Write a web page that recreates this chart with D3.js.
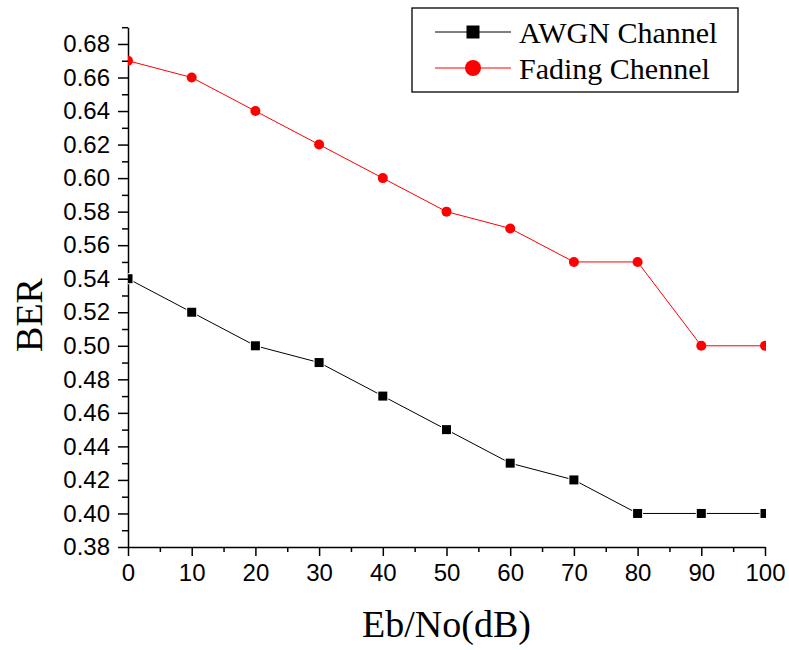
<!DOCTYPE html>
<html>
<head>
<meta charset="utf-8">
<script src="https://cdn.jsdelivr.net/npm/d3@7"></script>
<style>
  body { margin: 0; background: #fff; }
  .tick text { font-family: "Liberation Sans", Arial, sans-serif; font-size: 24px; fill: #000; }
  .label { font-family: "Liberation Serif", "Times New Roman", serif; font-size: 38px; fill: #000; }
  .legend text { font-family: "Liberation Serif", "Times New Roman", serif; font-size: 30px; fill: #000; }
</style>
</head>
<body>
<div class="chart"></div>
<script>
const ebNo = [0, 10, 20, 30, 40, 50, 60, 70, 80, 90, 100];
const awgn = [0.54, 0.52, 0.50, 0.49, 0.47, 0.45, 0.43, 0.42, 0.40, 0.40, 0.40];
const fading = [0.67, 0.66, 0.64, 0.62, 0.60, 0.58, 0.57, 0.55, 0.55, 0.50, 0.50];
const xTicks = [0, 10, 20, 30, 40, 50, 60, 70, 80, 90, 100];
const yTicks = [0.38, 0.40, 0.42, 0.44, 0.46, 0.48, 0.50, 0.52, 0.54, 0.56, 0.58, 0.60, 0.62, 0.64, 0.66, 0.68];
const seriesNames = ['AWGN Channel', 'Fading Chennel'];

const width = 789;
const height = 650;
const plotLeft = 128, plotRight = 765, plotTop = 27.2, plotBottom = 547;

const svg = d3.select('.chart')
  .append('svg')
  .attr('width', width)
  .attr('height', height);

const xScale = d3.scaleLinear().domain([0, 100]).range([plotLeft, plotRight]);
const yScale = d3.scaleLinear().domain([0.38, 0.69]).range([plotBottom, plotTop]);

// minor ticks first, then major axes on top
svg.append('g')
  .attr('transform', `translate(0, ${plotBottom})`)
  .call(d3.axisBottom(xScale).tickValues(d3.range(5, 100, 10)).tickSize(5).tickFormat(''))
  .call(g => g.select('.domain').remove())
  .call(g => g.selectAll('line').attr('stroke-width', 1.5));

svg.append('g')
  .attr('transform', `translate(${plotLeft}, 0)`)
  .call(d3.axisLeft(yScale).tickValues(d3.range(0.39, 0.695, 0.02)).tickSize(6).tickFormat(''))
  .call(g => g.select('.domain').remove())
  .call(g => g.selectAll('line').attr('stroke-width', 1.5));

svg.append('g')
  .attr('id', 'x-axis')
  .attr('transform', `translate(0, ${plotBottom})`)
  .call(d3.axisBottom(xScale).tickValues(xTicks).tickSize(9).tickSizeOuter(0).tickPadding(8).tickFormat(d3.format('d')))
  .call(g => g.select('.domain').attr('stroke-width', 1.5))
  .call(g => g.selectAll('line').attr('stroke-width', 1.5));

svg.append('g')
  .attr('id', 'y-axis')
  .attr('transform', `translate(${plotLeft}, 0)`)
  .call(d3.axisLeft(yScale).tickValues(yTicks).tickSize(10).tickSizeOuter(0).tickPadding(8).tickFormat(d3.format('.2f')))
  .call(g => g.select('.domain').attr('stroke-width', 1.5))
  .call(g => g.selectAll('line').attr('stroke-width', 1.5));

svg.append('clipPath')
  .attr('id', 'clip')
  .append('rect')
  .attr('x', plotLeft)
  .attr('y', 0)
  .attr('width', plotRight - plotLeft + 1)
  .attr('height', plotBottom);

const plot = svg.append('g').attr('clip-path', 'url(#clip)');

const line = d3.line()
  .x((d, i) => xScale(ebNo[i]))
  .y(d => yScale(d));

plot.append('path')
  .datum(awgn)
  .attr('fill', 'none')
  .attr('stroke', '#000')
  .attr('stroke-width', 1)
  .attr('d', line);

plot.append('path')
  .datum(fading)
  .attr('fill', 'none')
  .attr('stroke', '#ff0000')
  .attr('stroke-width', 1)
  .attr('d', line);

plot.selectAll('.sq')
  .data(awgn)
  .enter()
  .append('rect')
  .attr('class', 'sq')
  .attr('x', (d, i) => xScale(ebNo[i]) - 4.5)
  .attr('y', d => yScale(d) - 4.5)
  .attr('width', 9)
  .attr('height', 9)
  .attr('fill', '#000')
  .attr('stroke', '#fff')
  .attr('stroke-width', 2)
  .attr('paint-order', 'stroke');

plot.selectAll('.dot')
  .data(fading)
  .enter()
  .append('circle')
  .attr('class', 'dot')
  .attr('cx', (d, i) => xScale(ebNo[i]))
  .attr('cy', d => yScale(d))
  .attr('r', 5)
  .attr('fill', '#ff0000');

// axis titles
svg.append('text')
  .attr('class', 'label')
  .attr('text-anchor', 'middle')
  .attr('x', (plotLeft + plotRight) / 2)
  .attr('y', 637)
  .text('Eb/No(dB)');

svg.append('text')
  .attr('class', 'label')
  .attr('text-anchor', 'middle')
  .attr('transform', 'translate(42, 315) rotate(-90)')
  .text('BER');

// legend
const legend = svg.append('g').attr('class', 'legend');
legend.append('rect')
  .attr('x', 412)
  .attr('y', 8)
  .attr('width', 326)
  .attr('height', 84)
  .attr('fill', '#fff')
  .attr('stroke', '#000')
  .attr('stroke-width', 1.3);

const legendColors = ['#000', '#ff0000'];
const legendY = [32, 68];
seriesNames.forEach((name, i) => {
  legend.append('line')
    .attr('x1', 435).attr('x2', 511)
    .attr('y1', legendY[i]).attr('y2', legendY[i])
    .attr('stroke', legendColors[i])
    .attr('stroke-width', 1);
  if (i === 0) {
    legend.append('rect')
      .attr('x', 466.5).attr('y', legendY[i] - 6.5)
      .attr('width', 13).attr('height', 13)
      .attr('fill', '#000');
  } else {
    legend.append('circle')
      .attr('cx', 473).attr('cy', legendY[i])
      .attr('r', 8)
      .attr('fill', '#ff0000');
  }
  legend.append('text')
    .attr('x', 519)
    .attr('y', legendY[i] + 10.5)
    .text(name);
});
</script>
</body>
</html>
